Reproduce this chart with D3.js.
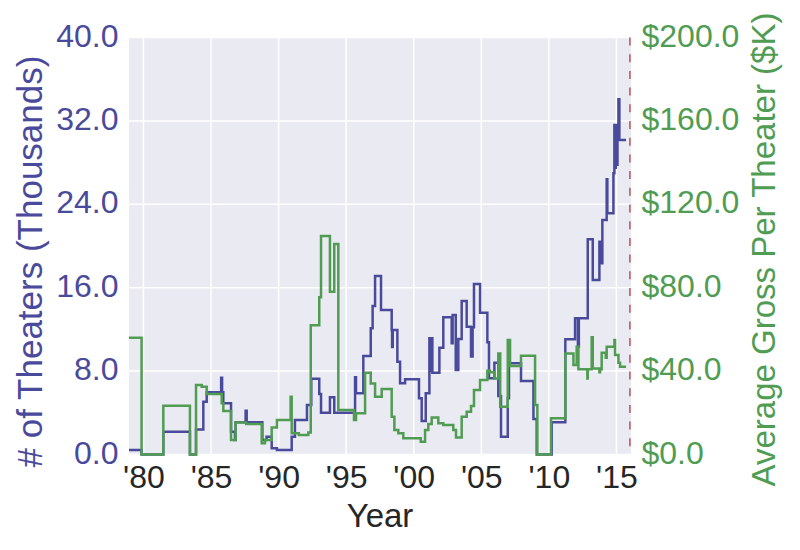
<!DOCTYPE html>
<html><head><meta charset="utf-8">
<script src="https://cdn.jsdelivr.net/npm/d3@7"></script>
<style>body{margin:0;background:#fff}svg{display:block}text{font-family:"Liberation Sans",Arial,sans-serif}</style>
</head><body><div id="chart"></div>
<script>
// ---- data ----
const theaterYears = [1978.93,1979.86,1981.47,1983.44,1983.89,1984.43,1984.68,1985.75,1985.82,1985.91,1986.48,1986.77,1986.82,1987.56,1987.64,1988.80,1989.11,1989.49,1989.88,1990.97,1991.21,1992.10,1992.42,1993.01,1993.14,1993.80,1994.12,1995.66,1995.73,1996.27,1996.82,1996.96,1997.14,1997.58,1998.37,1998.40,1998.45,1998.79,1998.99,1999.36,2000.39,2000.59,2000.89,2001.16,2001.28,2001.33,2001.38,2001.90,2002.19,2002.81,2002.88,2003.11,2003.30,2003.55,2003.92,2004.24,2004.36,2004.46,2004.91,2005.45,2005.57,2005.97,2006.26,2006.46,2006.96,2007.05,2007.94,2008.86,2009.10,2010.21,2011.22,2011.94,2012.15,2012.22,2012.88,2013.25,2013.74,2013.80,2013.96,2014.28,2014.33,2014.78,2014.85,2014.90,2014.95,2015.02,2015.08,2015.15,2015.22,2015.71];
const theaterValues = [0.43,0,2.19,0,2.4,5.07,5.97,7.37,5.97,4.91,2.19,1.39,3.09,4.2,3.09,1.39,1.71,0.59,0.43,1.71,3.31,4.75,7.27,5.8,4.0,5.49,4.0,7.4,5.87,9.45,12.1,14.24,17.12,13.86,11.94,10.3,11.94,8.9,6.83,7.21,5.39,3.21,5.87,11.15,8.0,11.15,7.85,10.25,13.16,10.67,13.38,8.1,11.08,14.72,12.26,9.4,12.2,16.35,13.6,10.76,7.31,8.8,5.61,1.71,5.39,8.75,7.05,3.4,0,3.1,11.05,13.06,10.34,13.06,20.64,16.74,20.41,18.34,22.49,26.4,23.14,26.97,31.6,27.5,31.3,27.8,31.6,34.07,30.17,30.17];
const grossYears = [1978.93,1979.86,1981.47,1983.44,1983.89,1984.31,1984.68,1985.79,1985.91,1986.48,1986.82,1987.60,1988.75,1988.99,1989.49,1989.88,1990.89,1990.97,1991.50,1992.20,1992.38,1993.01,1993.14,1993.80,1994.12,1994.42,1995.58,1995.73,1996.40,1996.82,1997.14,1997.63,1998.37,1998.57,1998.86,1999.23,2000.52,2000.84,2001.08,2001.33,2001.82,2002.19,2002.93,2003.13,2003.55,2003.92,2004.24,2004.46,2004.91,2005.45,2005.65,2005.97,2006.26,2006.40,2006.96,2007.13,2007.94,2008.98,2009.15,2010.16,2011.22,2011.82,2012.06,2012.19,2012.85,2012.88,2013.17,2013.25,2013.74,2013.79,2013.91,2014.21,2014.28,2014.85,2014.90,2015.15,2015.27,2015.71];
const grossValues = [56.0,0,23.4,0,33.3,32.5,29.0,24.6,20.9,7.0,15.4,14.6,5.4,7.0,13.0,16.5,27.7,10.2,9.35,10.6,62.0,75.4,104.8,78.1,101.0,21.3,16.5,19.8,39.2,34.1,27.7,31.4,18.1,11.75,10.2,7.8,6.1,11.75,14.6,17.8,15.0,14.1,11.75,8.2,18.1,20.5,23.3,30.9,35.7,40.2,39.5,36.5,48.5,22.9,54.9,42.4,47.4,23.7,0,17.4,48.5,42.9,51.7,40.9,36.5,40.9,56.2,41.3,39.5,40.9,48.8,46.4,51.7,54.9,47.7,44.0,42.1,42.1];
const yearTicks = [1980,1985,1990,1995,2000,2005,2010,2015];
const yearTickLabels = ["'80","'85","'90","'95","'00","'05","'10","'15"];
const theaterTicks = [0,8,16,24,32,40];
const grossTicks = [0,40,80,120,160,200];
const markerYear = 2016.0;

// ---- layout ----
const W = 800, H = 550;
const L = 129, R = 631, T = 37.5, B = 454.5;
const blue = "#4A4A9C", green = "#4F9C52", red = "#C44E52", dark = "#262626";

const svg = d3.select("#chart").append("svg").attr("width", W).attr("height", H);
const x = d3.scaleLinear().domain([1978.93, 2016.08]).range([L, R]);
const yT = d3.scaleLinear().domain([0, 40]).range([B, T]);
const yG = d3.scaleLinear().domain([0, 200]).range([B, T]);

svg.append("rect").attr("x", L).attr("y", T).attr("width", R - L).attr("height", B - T).attr("fill", "#EAEAF2");

// grid
svg.append("g").selectAll("line").data(yearTicks).join("line")
  .attr("x1", d => x(d)).attr("x2", d => x(d)).attr("y1", T).attr("y2", B)
  .attr("stroke", "#fff").attr("stroke-width", 1.5);
svg.append("g").selectAll("line").data(theaterTicks).join("line")
  .attr("x1", L).attr("x2", R).attr("y1", d => yT(d)).attr("y2", d => yT(d))
  .attr("stroke", "#fff").attr("stroke-width", 1.5);

const clip = svg.append("clipPath").attr("id", "clip").append("rect")
  .attr("x", L).attr("y", T - 2).attr("width", R - L).attr("height", B - T + 4);

const tData = theaterYears.map((d, i) => [d, theaterValues[i]]);
const gData = grossYears.map((d, i) => [d, grossValues[i]]);

const plot = svg.append("g").attr("clip-path", "url(#clip)");
plot.append("path").datum(tData)
  .attr("d", d3.line().x(d => x(d[0])).y(d => yT(d[1])).curve(d3.curveStepAfter))
  .attr("fill", "none").attr("stroke", blue).attr("stroke-width", 2.5).attr("stroke-linejoin", "miter");
plot.append("path").datum(gData)
  .attr("d", d3.line().x(d => x(d[0])).y(d => yG(d[1])).curve(d3.curveStepAfter))
  .attr("fill", "none").attr("stroke", green).attr("stroke-width", 2.5).attr("stroke-linejoin", "miter");
plot.append("line").attr("x1", x(markerYear)).attr("x2", x(markerYear)).attr("y1", T).attr("y2", B)
  .attr("stroke", red).attr("stroke-width", 1.5).attr("stroke-dasharray", "8,8.7");

// axes
const fs = 32;
const xAxis = svg.append("g").attr("transform", `translate(0,${B})`)
  .call(d3.axisBottom(x).tickValues(yearTicks).tickFormat((d, i) => yearTickLabels[i]).tickSize(0).tickPadding(0));
xAxis.select(".domain").remove();
xAxis.selectAll("text").attr("font-size", fs).attr("fill", dark).attr("dy", null).attr("y", 33);

const lAxis = svg.append("g").attr("transform", `translate(${L},0)`)
  .call(d3.axisLeft(yT).tickValues(theaterTicks).tickFormat(d3.format(".1f")).tickSize(0).tickPadding(10.5));
lAxis.select(".domain").remove();
lAxis.selectAll("text").attr("font-size", fs).attr("fill", blue).attr("dy", null).attr("y", 8.5);

const rAxis = svg.append("g").attr("transform", `translate(${R},0)`)
  .call(d3.axisRight(yG).tickValues(grossTicks).tickFormat(d => "$" + d3.format(".1f")(d)).tickSize(0).tickPadding(10.5));
rAxis.select(".domain").remove();
rAxis.selectAll("text").attr("font-size", fs).attr("fill", green).attr("dy", null).attr("y", 8.5);

// labels
svg.append("text").attr("x", (L + R) / 2).attr("y", 527).attr("text-anchor", "middle")
  .attr("font-size", 33).attr("fill", dark).text("Year");
svg.append("text").attr("transform", `translate(41.5,${261.5}) rotate(-90)`).attr("text-anchor", "middle")
  .attr("font-size", 35).attr("fill", blue).text("# of Theaters (Thousands)");
svg.append("text").attr("transform", `translate(775,${249.5}) rotate(-90)`).attr("text-anchor", "middle")
  .attr("font-size", 33).attr("fill", green).text("Average Gross Per Theater ($K)");
</script></body></html>
